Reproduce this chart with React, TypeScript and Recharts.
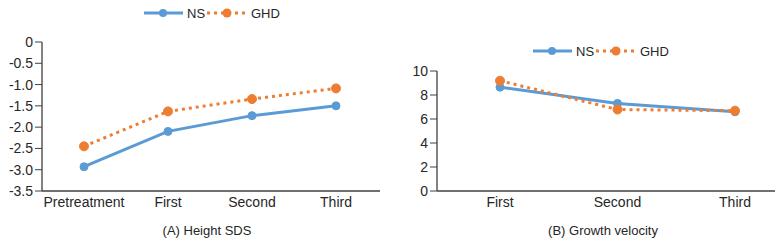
import React from "react";
import { LineChart, Line, XAxis, YAxis, Legend } from "recharts";

const heightCategories = ["Pretreatment", "First", "Second", "Third"];
const heightNS = [-2.93, -2.1, -1.73, -1.5];
const heightGHD = [-2.45, -1.63, -1.34, -1.09];
const heightTicks = [0, -0.5, -1.0, -1.5, -2.0, -2.5, -3.0, -3.5];

const velocityCategories = ["First", "Second", "Third"];
const velocityNS = [8.65, 7.3, 6.6];
const velocityGHD = [9.19, 6.79, 6.69];
const velocityTicks = [0, 2, 4, 6, 8, 10];

const BLUE = "#5B9BD5";
const ORANGE = "#ED7D31";
const TEXT = "#262626";
const AXIS = "#404040";
const FONT = "'Liberation Sans', Arial, sans-serif";

const heightData = heightCategories.map((c, i) => ({ cat: c, NS: heightNS[i], GHD: heightGHD[i] }));
const velocityData = velocityCategories.map((c, i) => ({ cat: c, NS: velocityNS[i], GHD: velocityGHD[i] }));

const LegendContent = () => (
  <svg width={136} height={16} style={{ display: "block", overflow: "visible" }}>
    <line x1={0} y1={8} x2={39} y2={8} stroke={BLUE} strokeWidth={3} />
    <circle cx={19} cy={8} r={4} fill={BLUE} />
    <text x={43} y={12.5} fontSize={13} fill={TEXT} fontFamily={FONT}>NS</text>
    <line x1={63} y1={8} x2={101} y2={8} stroke={ORANGE} strokeWidth={3} strokeDasharray="3 4" />
    <circle cx={83} cy={8} r={4.5} fill={ORANGE} />
    <text x={107} y={12.5} fontSize={13} fill={TEXT} fontFamily={FONT}>GHD</text>
  </svg>
);

const xTickStyle = { fontSize: 14, fill: TEXT, fontFamily: FONT };
const yTickStyle = { fontSize: 14, fill: TEXT, fontFamily: FONT };

export default function App() {
  return (
    <div style={{ position: "absolute", left: 0, top: 0, width: 781, height: 246, background: "#fff", fontFamily: FONT }}>
      <div style={{ position: "absolute", left: 0, top: 0 }}>
        <LineChart width={390} height={246} data={heightData} margin={{ top: 26, right: 10, bottom: 25, left: 0 }}>
          <XAxis
            dataKey="cat"
            padding={{ left: 42, right: 44 }}
            tickLine={false}
            tickSize={0}
            tickMargin={6}
            axisLine={{ stroke: AXIS, strokeWidth: 1.3 }}
            tick={xTickStyle}
            interval={0}
            height={30}
          />
          <YAxis
            domain={[-3.5, 0]}
            ticks={heightTicks}
            width={42}
            tickSize={7}
            tickMargin={2}
            tickLine={{ stroke: AXIS }}
            axisLine={{ stroke: AXIS, strokeWidth: 1.3 }}
            tick={yTickStyle}
            tickFormatter={(v: number) => (v === 0 ? "0" : v.toFixed(1))}
          />
          <Legend
            verticalAlign="top"
            content={() => <LegendContent />}
            wrapperStyle={{ position: "absolute", left: 144, top: 5, width: 136 }}
          />
          <Line dataKey="NS" stroke={BLUE} strokeWidth={3} dot={{ r: 4, fill: BLUE, stroke: BLUE, strokeWidth: 1 }} isAnimationActive={false} />
          <Line dataKey="GHD" stroke={ORANGE} strokeWidth={3} strokeDasharray="3 4" dot={{ r: 4.5, fill: ORANGE, stroke: ORANGE, strokeWidth: 1, strokeDasharray: "" }} isAnimationActive={false} />
        </LineChart>
        <div style={{ position: "absolute", left: 0, width: 414, top: 223, textAlign: "center", fontSize: 13, color: TEXT }}>
          (A) Height SDS
        </div>
      </div>
      <div style={{ position: "absolute", left: 390, top: 0 }}>
        <LineChart width={391} height={246} data={velocityData} margin={{ top: 55, right: 6, bottom: 25, left: 0 }}>
          <XAxis
            dataKey="cat"
            padding={{ left: 63, right: 40 }}
            tickLine={false}
            tickSize={0}
            tickMargin={6}
            axisLine={{ stroke: AXIS, strokeWidth: 1.3 }}
            tick={xTickStyle}
            interval={0}
            height={30}
          />
          <YAxis
            domain={[0, 10]}
            ticks={velocityTicks}
            width={47}
            tickSize={7}
            tickMargin={2}
            tickLine={{ stroke: AXIS }}
            axisLine={{ stroke: AXIS, strokeWidth: 1.3 }}
            tick={yTickStyle}
          />
          <Legend
            verticalAlign="top"
            content={() => <LegendContent />}
            wrapperStyle={{ position: "absolute", left: 143, top: 43, width: 136 }}
          />
          <Line dataKey="NS" stroke={BLUE} strokeWidth={3} dot={{ r: 4, fill: BLUE, stroke: BLUE, strokeWidth: 1 }} isAnimationActive={false} />
          <Line dataKey="GHD" stroke={ORANGE} strokeWidth={3} strokeDasharray="3 4" dot={{ r: 4.5, fill: ORANGE, stroke: ORANGE, strokeWidth: 1, strokeDasharray: "" }} isAnimationActive={false} />
        </LineChart>
        <div style={{ position: "absolute", left: 0, width: 426, top: 223, textAlign: "center", fontSize: 13, color: TEXT }}>
          (B) Growth velocity
        </div>
      </div>
    </div>
  );
}
